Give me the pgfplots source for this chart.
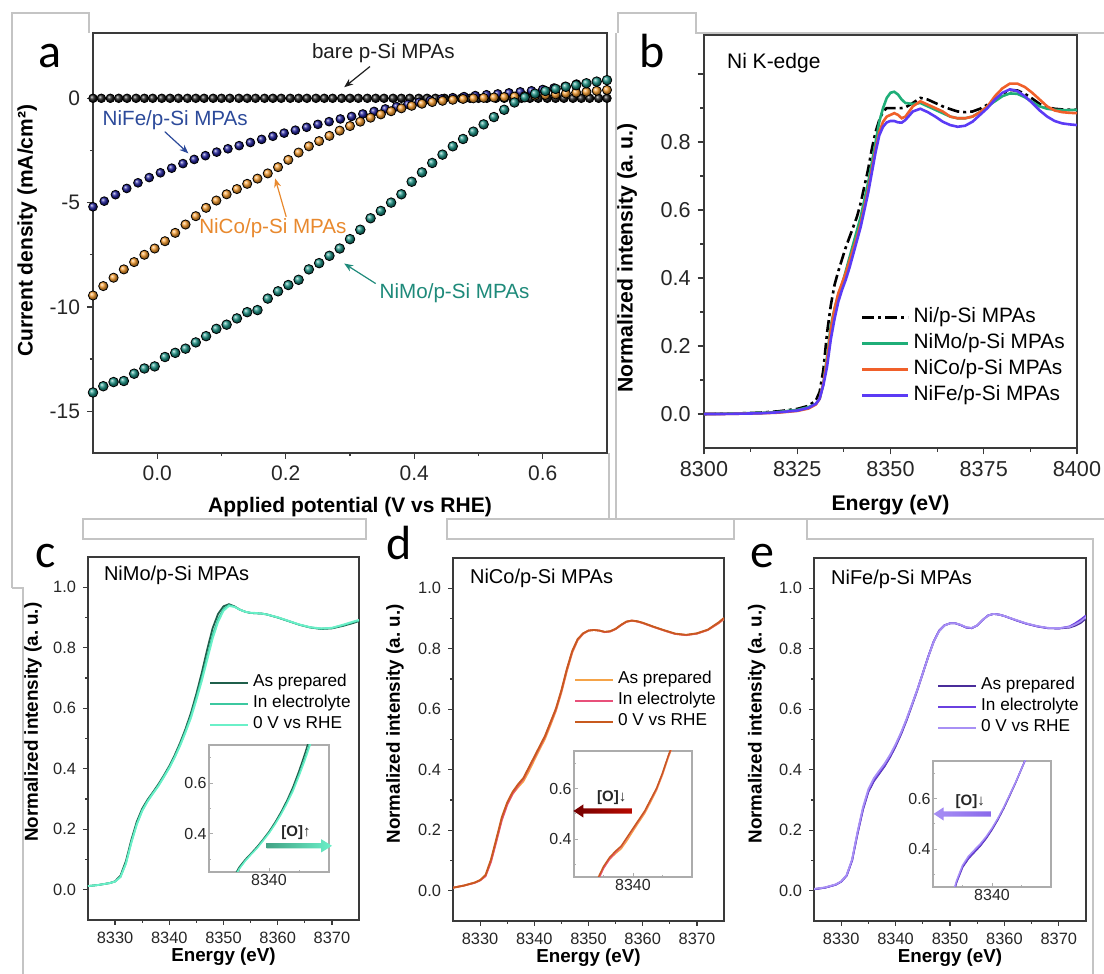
\documentclass[border=0pt]{standalone}
\usepackage{pgfplots}
\pgfplotsset{compat=1.18}
\usepackage{pgfplotstable}
\usepackage{fontspec}
\setmainfont{Liberation Sans}
\newfontfamily\carlito{Carlito}
\usetikzlibrary{arrows.meta}

\definecolor{framec}{HTML}{3A3A3A}
\definecolor{tickc}{HTML}{262626}
\definecolor{boxc}{HTML}{C4C4C4}
% panel a
\definecolor{aBlk}{HTML}{1E1E1E}
\definecolor{aBlu}{HTML}{1F1F9A}
\definecolor{aOra}{HTML}{F39A2E}
\definecolor{aTea}{HTML}{1A9082}
\definecolor{annBlu}{HTML}{2C4A9A}
\definecolor{annOra}{HTML}{E8892E}
\definecolor{annTea}{HTML}{1E8A7A}
% panel b
\definecolor{bMo}{HTML}{1FAE78}
\definecolor{bCo}{HTML}{F0602A}
\definecolor{bFe}{HTML}{5B3BF5}
% panel c
\definecolor{cAP}{HTML}{1F5F4B}
\definecolor{cEL}{HTML}{3CC8A0}
\definecolor{cZV}{HTML}{6AF0C8}
% panel d
\definecolor{dAP}{HTML}{F5A347}
\definecolor{dEL}{HTML}{E8507A}
\definecolor{dZV}{HTML}{C85A1E}
% panel e
\definecolor{eAP}{HTML}{4A2D9A}
\definecolor{eEL}{HTML}{6A40E0}
\definecolor{eZV}{HTML}{A890F5}

\pgfplotsset{
  every axis/.append style={
    scale only axis,
    /pgf/number format/assume math mode=true,
    /pgf/number format/1000 sep={},
    scaled ticks=false,
    tick align=outside,
    tick pos=left,
    axis line style={draw=framec, line width=0.8pt},
    tick style={draw=framec, line width=0.6pt},
    tick label style={text=tickc},
  },
  xas/.style={
    xmin=8325, xmax=8375, ymin=-0.1, ymax=1.1,
    xtick={8330,8340,8350,8360,8370},
    ytick={0,0.2,0.4,0.6,0.8,1.0},
    minor x tick num=1, minor y tick num=1,
    major tick length=2.5pt, minor tick length=1.4pt,
    yticklabel style={/pgf/number format/fixed, /pgf/number format/fixed zerofill, /pgf/number format/precision=1},
    tick label style={font=\fontsize{8.2}{9.5}\selectfont},
    xlabel={Energy (eV)}, ylabel={Normalized intensity (a.\ u.)},
    label style={font=\bfseries\fontsize{9.4}{11}\selectfont},
    xlabel style={at={(axis description cs:0.5,-0.102)}, anchor=center},
    legend cell align=left,
    legend image code/.code={\draw[##1] (0pt,0pt) -- (19pt,0pt);},
  },
  inset/.style={
    xmin=8330, xmax=8350, ymin=0.25, ymax=0.75,
    xtick={8340}, ytick={0.4,0.6},
    minor xtick={8335,8345}, minor ytick={0.3,0.5,0.7},
    tick align=inside,
    axis line style={draw=gray!65, line width=0.6pt},
    tick style={draw=gray!65, line width=0.5pt},
    major tick length=2pt, minor tick length=1.2pt,
    tick label style={font=\fontsize{8}{9}\selectfont, inner sep=1pt},
    yticklabel style={/pgf/number format/fixed, /pgf/number format/fixed zerofill, /pgf/number format/precision=1},
    axis background/.style={fill=white},
    clip mode=individual,
  },
}

\pgfplotstableread{
E ni mo co fe
8300 0.000 0.000 0.000 0.000
8305 0.001 0.001 0.000 0.000
8310 0.002 0.002 0.001 0.001
8315 0.004 0.003 0.002 0.002
8320 0.008 0.006 0.004 0.005
8325 0.015 0.012 0.009 0.010
8328 0.024 0.020 0.016 0.018
8330 0.040 0.030 0.028 0.030
8331 0.065 0.045 0.045 0.045
8332 0.130 0.090 0.090 0.085
8333 0.240 0.170 0.160 0.140
8334 0.320 0.260 0.250 0.220
8335 0.380 0.310 0.310 0.280
8336 0.420 0.350 0.355 0.330
8337 0.455 0.380 0.385 0.365
8338 0.490 0.420 0.415 0.395
8339 0.520 0.460 0.450 0.430
8340 0.550 0.500 0.485 0.470
8341 0.580 0.540 0.520 0.510
8342 0.620 0.580 0.560 0.550
8343 0.670 0.630 0.610 0.600
8344 0.720 0.680 0.660 0.650
8345 0.780 0.740 0.720 0.710
8346 0.830 0.800 0.780 0.770
8347 0.865 0.860 0.830 0.820
8348 0.890 0.900 0.860 0.845
8349 0.900 0.930 0.875 0.858
8350 0.900 0.945 0.880 0.862
8351 0.900 0.948 0.885 0.862
8352 0.900 0.940 0.880 0.858
8353 0.900 0.925 0.870 0.857
8354 0.902 0.915 0.875 0.865
8356 0.915 0.912 0.905 0.890
8358 0.930 0.915 0.920 0.898
8360 0.925 0.905 0.910 0.888
8362 0.915 0.895 0.900 0.875
8364 0.905 0.885 0.890 0.860
8366 0.897 0.875 0.875 0.850
8368 0.890 0.870 0.870 0.845
8370 0.888 0.870 0.870 0.848
8372 0.890 0.875 0.875 0.860
8374 0.898 0.888 0.888 0.880
8376 0.910 0.905 0.905 0.900
8378 0.925 0.920 0.935 0.925
8380 0.942 0.935 0.958 0.945
8382 0.953 0.943 0.972 0.955
8384 0.952 0.942 0.972 0.950
8386 0.942 0.932 0.962 0.935
8388 0.928 0.918 0.945 0.915
8390 0.912 0.905 0.925 0.893
8392 0.902 0.898 0.905 0.875
8394 0.898 0.895 0.893 0.862
8396 0.896 0.894 0.888 0.855
8398 0.895 0.894 0.886 0.852
8400 0.895 0.895 0.885 0.850
}\tabB

\pgfplotstableread{
E ap el zv
8325 0.012 0.012 0.012
8327 0.016 0.016 0.016
8329 0.022 0.022 0.022
8330 0.028 0.027 0.027
8331 0.047 0.043 0.042
8332 0.095 0.088 0.086
8333 0.165 0.158 0.155
8334 0.225 0.218 0.215
8335 0.268 0.263 0.260
8336 0.298 0.294 0.292
8337 0.323 0.320 0.318
8338 0.349 0.345 0.343
8339 0.378 0.375 0.372
8340 0.409 0.405 0.402
8341 0.445 0.440 0.437
8342 0.486 0.480 0.476
8343 0.532 0.525 0.520
8344 0.585 0.575 0.568
8345 0.648 0.635 0.627
8346 0.718 0.700 0.690
8347 0.795 0.772 0.760
8348 0.865 0.842 0.830
8349 0.912 0.895 0.885
8350 0.937 0.928 0.922
8351 0.944 0.941 0.938
8352 0.937 0.936 0.935
8353 0.926 0.926 0.926
8354 0.919 0.919 0.919
8355 0.915 0.915 0.916
8356 0.914 0.914 0.915
8357 0.913 0.913 0.913
8358 0.910 0.910 0.910
8360 0.900 0.900 0.901
8362 0.888 0.888 0.889
8364 0.876 0.876 0.877
8366 0.867 0.867 0.868
8368 0.862 0.863 0.864
8370 0.864 0.865 0.866
8372 0.872 0.874 0.876
8374 0.882 0.885 0.887
8375 0.888 0.890 0.892
}\tabC

\pgfplotstableread{
E ap el zv
8325 0.010 0.010 0.010
8327 0.017 0.017 0.017
8329 0.027 0.026 0.027
8330 0.035 0.034 0.035
8331 0.050 0.048 0.052
8332 0.098 0.095 0.103
8333 0.166 0.163 0.172
8334 0.236 0.233 0.243
8335 0.286 0.284 0.292
8336 0.320 0.320 0.327
8337 0.342 0.347 0.352
8338 0.362 0.370 0.373
8339 0.395 0.405 0.408
8340 0.432 0.440 0.443
8341 0.468 0.475 0.478
8342 0.503 0.510 0.513
8343 0.548 0.555 0.558
8344 0.595 0.600 0.603
8345 0.655 0.660 0.663
8346 0.725 0.730 0.733
8347 0.787 0.790 0.793
8348 0.828 0.830 0.832
8349 0.849 0.850 0.851
8350 0.860 0.860 0.860
8351 0.862 0.862 0.862
8352 0.860 0.860 0.860
8353 0.855 0.855 0.856
8354 0.857 0.857 0.858
8355 0.865 0.865 0.866
8356 0.878 0.878 0.879
8357 0.889 0.889 0.890
8358 0.893 0.893 0.893
8359 0.890 0.890 0.891
8360 0.885 0.885 0.886
8362 0.872 0.872 0.873
8364 0.860 0.860 0.861
8366 0.849 0.849 0.850
8368 0.845 0.845 0.846
8370 0.850 0.850 0.851
8372 0.862 0.862 0.863
8374 0.884 0.885 0.887
8375 0.898 0.900 0.902
}\tabD

\pgfplotstableread{
E ap el zv
8325 0.005 0.005 0.006
8327 0.010 0.010 0.011
8329 0.020 0.020 0.021
8330 0.030 0.030 0.031
8331 0.050 0.050 0.052
8332 0.100 0.100 0.104
8333 0.188 0.190 0.195
8334 0.268 0.270 0.276
8335 0.327 0.330 0.336
8336 0.362 0.365 0.372
8337 0.387 0.390 0.397
8338 0.412 0.415 0.421
8339 0.442 0.445 0.450
8340 0.477 0.480 0.484
8341 0.517 0.520 0.523
8342 0.562 0.565 0.567
8343 0.612 0.615 0.616
8344 0.663 0.665 0.665
8345 0.718 0.720 0.719
8346 0.773 0.775 0.773
8347 0.823 0.825 0.823
8348 0.859 0.860 0.858
8349 0.877 0.878 0.877
8350 0.884 0.884 0.884
8351 0.884 0.884 0.884
8352 0.878 0.878 0.879
8353 0.870 0.870 0.871
8354 0.868 0.868 0.869
8355 0.877 0.877 0.877
8356 0.895 0.895 0.895
8357 0.910 0.910 0.910
8358 0.915 0.915 0.915
8359 0.913 0.913 0.913
8360 0.908 0.908 0.908
8362 0.895 0.895 0.896
8364 0.883 0.883 0.884
8366 0.874 0.874 0.875
8368 0.868 0.868 0.869
8370 0.867 0.867 0.868
8372 0.870 0.874 0.872
8373 0.876 0.884 0.880
8374 0.885 0.896 0.890
8375 0.900 0.910 0.905
}\tabE

\begin{document}
\begin{tikzpicture}
\useasboundingbox (0pt,0pt) rectangle (552pt,487pt);

% light grey layout boxes
\begin{scope}[draw=boxc, line width=0.6pt]
\draw (6pt,193pt) -- (6pt,480.5pt) -- (44.5pt,480.5pt) -- (44.5pt,470.5pt);
\draw (6pt,193pt) -- (11.5pt,193pt) -- (11.5pt,0pt);
\draw (304.5pt,260.5pt) -- (304.5pt,227.5pt);
\draw (308pt,227.5pt) -- (308pt,470.5pt);
\draw (309pt,470.5pt) -- (309pt,480.5pt) -- (348pt,480.5pt) -- (348pt,470.5pt) -- (552pt,470.5pt);
\draw (308pt,227.5pt) -- (552pt,227.5pt);
\draw (41.5pt,227.5pt) rectangle (183pt,217.5pt);
\draw (223.5pt,227.5pt) rectangle (367pt,217.5pt);
\draw (403.5pt,227.5pt) -- (403.5pt,217.5pt) -- (546.5pt,217.5pt) -- (546.5pt,0pt);
\end{scope}

% ---------------- panel a ----------------
\begin{axis}[
  at={(46.5pt,260.5pt)}, anchor=south west, width=257pt, height=210pt,
  xmin=-0.1, xmax=0.7, ymin=-17, ymax=3.13,
  xtick={0,0.2,0.4,0.6}, ytick={-15,-10,-5,0},
  minor x tick num=1, minor y tick num=1,
  major tick length=3pt, minor tick length=1.6pt,
  xticklabel style={/pgf/number format/fixed, /pgf/number format/fixed zerofill, /pgf/number format/precision=1},
  tick label style={font=\fontsize{10.5}{12}\selectfont},
  xlabel={Applied potential (V vs RHE)},
  ylabel={Current density (mA/cm²)},
  label style={font=\bfseries\fontsize{10.5}{12}\selectfont},
  xlabel style={at={(axis description cs:0.5,-0.129)}, anchor=center},
  ylabel style={at={(axis description cs:-0.128,0.529)}, anchor=center},
]
\addplot[only marks, mark=ball, mark size=2.15pt, ball color=aBlk] coordinates {
(-0.100,0)(-0.087,0)(-0.073,0)(-0.060,0)(-0.047,0)(-0.033,0)(-0.020,0)(-0.007,0)
(0.007,0)(0.020,0)(0.033,0)(0.047,0)(0.060,0)(0.073,0)(0.087,0)(0.100,0)
(0.113,0)(0.127,0)(0.140,0)(0.153,0)(0.167,0)(0.180,0)(0.193,0)(0.207,0)
(0.220,0)(0.233,0)(0.247,0)(0.260,0)(0.273,0)(0.287,0)(0.300,0)(0.313,0)
(0.327,0)(0.340,0)(0.353,0)(0.367,0)(0.380,0)(0.393,0)(0.407,0)(0.420,0)
(0.433,0)(0.447,0)(0.460,0)(0.473,0)(0.487,0)(0.500,0)(0.513,0)(0.527,0)
(0.540,0)(0.553,0)(0.567,0)(0.580,0)(0.593,0)(0.607,0)(0.620,0)(0.633,0)
(0.647,0)(0.660,0)(0.673,0)(0.687,0)(0.700,0)};
\addplot[only marks, mark=ball, mark size=2.2pt, ball color=aBlu] coordinates {
(-0.1,-5.2)(-0.0825,-4.93)(-0.065,-4.62)(-0.0475,-4.32)(-0.03,-4.05)(-0.0125,-3.80)
(0.005,-3.57)(0.0225,-3.35)(0.04,-3.13)(0.0575,-2.93)(0.075,-2.75)(0.0925,-2.58)
(0.11,-2.42)(0.1275,-2.27)(0.145,-2.12)(0.1625,-1.97)(0.18,-1.82)(0.1975,-1.67)
(0.215,-1.53)(0.2325,-1.39)(0.25,-1.25)(0.2675,-1.12)(0.285,-0.99)(0.3025,-0.87)
(0.32,-0.75)(0.3375,-0.63)(0.355,-0.51)(0.3725,-0.40)(0.39,-0.29)(0.4075,-0.19)
(0.425,-0.10)(0.4425,-0.03)(0.46,0.03)(0.4775,0.08)(0.495,0.13)(0.5125,0.17)
(0.53,0.21)(0.5475,0.26)(0.565,0.31)(0.5825,0.36)(0.60,0.42)(0.6175,0.49)
(0.635,0.57)(0.6525,0.68)};
\addplot[only marks, mark=ball, mark size=2.3pt, ball color=aOra] coordinates {
(-0.100,-9.45)(-0.084,-9.0)(-0.068,-8.6)(-0.052,-8.2)(-0.036,-7.85)(-0.020,-7.5)
(-0.004,-7.2)(0.012,-6.85)(0.028,-6.45)(0.044,-6.05)(0.060,-5.65)(0.076,-5.25)
(0.092,-4.9)(0.108,-4.6)(0.124,-4.35)(0.140,-4.1)(0.156,-3.85)(0.172,-3.6)
(0.188,-3.3)(0.204,-2.95)(0.220,-2.6)(0.236,-2.3)(0.252,-2.05)(0.268,-1.8)
(0.284,-1.55)(0.300,-1.33)(0.316,-1.12)(0.332,-0.93)(0.348,-0.77)(0.364,-0.62)
(0.380,-0.48)(0.396,-0.36)(0.412,-0.26)(0.428,-0.18)(0.444,-0.12)(0.460,-0.07)
(0.476,-0.03)(0.492,0.0)(0.508,0.02)(0.524,0.04)(0.540,0.06)(0.556,0.08)
(0.572,0.10)(0.588,0.13)(0.604,0.16)(0.620,0.19)(0.636,0.23)(0.652,0.27)
(0.668,0.31)(0.684,0.36)(0.700,0.40)};
\addplot[only marks, mark=ball, mark size=2.4pt, ball color=aTea] coordinates {
(-0.100,-14.1)(-0.084,-13.8)(-0.068,-13.6)(-0.052,-13.55)(-0.036,-13.2)(-0.020,-12.95)
(-0.004,-12.85)(0.012,-12.4)(0.028,-12.2)(0.044,-12.0)(0.060,-11.7)(0.076,-11.4)
(0.092,-11.05)(0.108,-10.85)(0.124,-10.55)(0.140,-10.25)(0.156,-10.15)(0.172,-9.6)
(0.188,-9.25)(0.204,-8.95)(0.220,-8.7)(0.236,-8.2)(0.252,-7.9)(0.268,-7.55)
(0.284,-7.2)(0.300,-6.75)(0.316,-6.3)(0.332,-5.75)(0.348,-5.4)(0.364,-5.0)
(0.380,-4.6)(0.396,-4.0)(0.412,-3.55)(0.428,-3.1)(0.444,-2.7)(0.460,-2.3)
(0.476,-1.95)(0.492,-1.6)(0.508,-1.25)(0.524,-0.9)(0.540,-0.55)(0.556,-0.2)
(0.572,0.05)(0.588,0.22)(0.604,0.35)(0.620,0.45)(0.636,0.55)(0.652,0.63)
(0.668,0.72)(0.684,0.80)(0.700,0.87)};
\node[font=\fontsize{10.3}{12}\selectfont, text=aBlk] at (axis cs:0.352,2.16) {bare p-Si MPAs};
\draw[-{Stealth[length=4.5pt,width=3.5pt]}, aBlk, line width=0.6pt] (axis cs:0.331,1.52) -- (axis cs:0.291,0.53);
\node[font=\fontsize{10.3}{12}\selectfont, text=annBlu] at (axis cs:0.028,-1.04) {NiFe/p-Si MPAs};
\draw[-{Stealth[length=4.5pt,width=3.5pt]}, annBlu, line width=0.6pt] (axis cs:0.0117,-1.60) -- (axis cs:0.0485,-2.64);
\node[font=\fontsize{10.3}{12}\selectfont, text=annOra] at (axis cs:0.180,-6.24) {NiCo/p-Si MPAs};
\draw[-{Stealth[length=4.5pt,width=3.5pt]}, annOra, line width=0.6pt] (axis cs:0.2007,-5.68) -- (axis cs:0.1835,-3.84);
\node[font=\fontsize{10.3}{12}\selectfont, text=annTea] at (axis cs:0.4627,-9.36) {NiMo/p-Si MPAs};
\draw[-{Stealth[length=4.5pt,width=3.5pt]}, annTea, line width=0.6pt] (axis cs:0.340,-8.88) -- (axis cs:0.291,-7.92);
\end{axis}

% ---------------- panel b ----------------
\begin{axis}[
  at={(352pt,263pt)}, anchor=south west, width=186.5pt, height=206.5pt,
  xmin=8300, xmax=8400, ymin=-0.1, ymax=1.115,
  xtick={8300,8325,8350,8375,8400}, ytick={0,0.2,0.4,0.6,0.8,1.0},
  yticklabels={0.0,0.2,0.4,0.6,0.8,{}},
  minor x tick num=1, minor y tick num=1,
  major tick length=3.2pt, minor tick length=1.8pt,
  tick label style={font=\fontsize{10.8}{12}\selectfont},
  xlabel={Energy (eV)}, ylabel={Normalized intensity (a.\ u.)},
  label style={font=\bfseries\fontsize{10.6}{12}\selectfont},
  xlabel style={at={(axis description cs:0.5,-0.138)}, anchor=center},
  ylabel style={at={(axis description cs:-0.206,0.46)}, anchor=center},
  legend style={draw=none, fill=none, at={(0.404,0.358)}, anchor=north west,
    font=\fontsize{10.4}{12}\selectfont, nodes={inner sep=0pt, text height=9pt, text depth=4pt}, column sep=2pt},
  legend cell align=left,
  legend image code/.code={\draw[#1] (0pt,0pt) -- (23pt,0pt);},
]
\addplot[black, line width=1.3pt, dash pattern=on 6pt off 2pt on 1.5pt off 2pt] table[x=E,y=ni] {\tabB};
\addlegendentry{Ni/p-Si MPAs}
\addplot[bMo, line width=1.3pt] table[x=E,y=mo] {\tabB};
\addlegendentry{NiMo/p-Si MPAs}
\addplot[bCo, line width=1.3pt] table[x=E,y=co] {\tabB};
\addlegendentry{NiCo/p-Si MPAs}
\addplot[bFe, line width=1.3pt] table[x=E,y=fe] {\tabB};
\addlegendentry{NiFe/p-Si MPAs}
\node[anchor=west, font=\fontsize{10.5}{12}\selectfont] at (axis description cs:0.043,0.932) {Ni K-edge};
\end{axis}

% ---------------- panel c ----------------
\begin{axis}[xas,
  at={(44pt,27pt)}, anchor=south west, width=135.5pt, height=181.5pt,
  ylabel style={at={(axis description cs:-0.203,0.545)}, anchor=center},
  legend style={draw=none, fill=none, at={(0.424,0.694)}, anchor=north west,
    font=\fontsize{8.6}{10}\selectfont, nodes={inner sep=0pt, text height=7pt, text depth=3.5pt}, column sep=2pt},
]
\addplot[cAP, line width=0.9pt] table[x=E,y=ap] {\tabC};
\addlegendentry{As prepared}
\addplot[cEL, line width=0.9pt] table[x=E,y=el] {\tabC};
\addlegendentry{In electrolyte}
\addplot[cZV, line width=0.9pt] table[x=E,y=zv] {\tabC};
\addlegendentry{0 V vs RHE}
\node[anchor=west, font=\fontsize{10}{12}\selectfont] at (axis description cs:0.033,0.95) {NiMo/p-Si MPAs};
\end{axis}
\begin{axis}[inset, at={(104.5pt,51pt)}, anchor=south west, width=60pt, height=63.5pt]
\addplot[cAP, line width=0.7pt] table[x=E,y=ap] {\tabC};
\addplot[cEL, line width=0.7pt] table[x=E,y=el] {\tabC};
\addplot[cZV, line width=0.7pt] table[x=E,y=zv] {\tabC};
\shade[left color=cAP, right color=cZV]
 ([yshift=1.3pt]axis cs:8339.6,0.353) -- ([yshift=1.3pt]axis cs:8348.7,0.353) -- ([yshift=3.3pt]axis cs:8348.7,0.353)
 -- (axis cs:8350.5,0.353) -- ([yshift=-3.3pt]axis cs:8348.7,0.353) -- ([yshift=-1.3pt]axis cs:8348.7,0.353)
 -- ([yshift=-1.3pt]axis cs:8339.6,0.353) -- cycle;
\node[font=\bfseries\fontsize{7.5}{9}\selectfont, text=tickc] at (axis cs:8344.5,0.405) {[O]↑};
\end{axis}

% ---------------- panel d ----------------
\begin{axis}[xas,
  at={(226.5pt,26.5pt)}, anchor=south west, width=135.5pt, height=181.5pt,
  ylabel style={at={(axis description cs:-0.214,0.543)}, anchor=center},
  legend style={draw=none, fill=none, at={(0.424,0.706)}, anchor=north west,
    font=\fontsize{8.6}{10}\selectfont, nodes={inner sep=0pt, text height=7pt, text depth=3.5pt}, column sep=2pt},
]
\addplot[dAP, line width=0.9pt] table[x=E,y=ap] {\tabD};
\addlegendentry{As prepared}
\addplot[dEL, line width=0.9pt] table[x=E,y=el] {\tabD};
\addlegendentry{In electrolyte}
\addplot[dZV, line width=0.9pt] table[x=E,y=zv] {\tabD};
\addlegendentry{0 V vs RHE}
\node[anchor=west, font=\fontsize{10}{12}\selectfont] at (axis description cs:0.037,0.945) {NiCo/p-Si MPAs};
\end{axis}
\begin{axis}[inset, at={(287pt,48.5pt)}, anchor=south west, width=59pt, height=63pt]
\addplot[dAP, line width=0.7pt] table[x=E,y=ap] {\tabD};
\addplot[dEL, line width=0.7pt] table[x=E,y=el] {\tabD};
\addplot[dZV, line width=0.7pt] table[x=E,y=zv] {\tabD};
\shade[left color=red!45!black, right color=red!85!orange]
 ([yshift=1.3pt]axis cs:8339.8,0.512) -- ([yshift=1.3pt]axis cs:8331.6,0.512) -- ([yshift=3.3pt]axis cs:8331.6,0.512)
 -- (axis cs:8329.9,0.512) -- ([yshift=-3.3pt]axis cs:8331.6,0.512) -- ([yshift=-1.3pt]axis cs:8331.6,0.512)
 -- ([yshift=-1.3pt]axis cs:8339.8,0.512) -- cycle;
\node[font=\bfseries\fontsize{7.5}{9}\selectfont, text=tickc] at (axis cs:8336.4,0.565) {[O]↓};
\end{axis}

% ---------------- panel e ----------------
\begin{axis}[xas,
  at={(407pt,26.5pt)}, anchor=south west, width=136pt, height=181.5pt,
  ylabel style={at={(axis description cs:-0.21,0.543)}, anchor=center},
  legend style={draw=none, fill=none, at={(0.43,0.688)}, anchor=north west,
    font=\fontsize{8.6}{10}\selectfont, nodes={inner sep=0pt, text height=7pt, text depth=3.5pt}, column sep=2pt},
]
\addplot[eAP, line width=0.9pt] table[x=E,y=ap] {\tabE};
\addlegendentry{As prepared}
\addplot[eEL, line width=0.9pt] table[x=E,y=el] {\tabE};
\addlegendentry{In electrolyte}
\addplot[eZV, line width=0.9pt] table[x=E,y=zv] {\tabE};
\addlegendentry{0 V vs RHE}
\node[anchor=west, font=\fontsize{10}{12}\selectfont] at (axis description cs:0.037,0.942) {NiFe/p-Si MPAs};
\end{axis}
\begin{axis}[inset, at={(466.5pt,43.5pt)}, anchor=south west, width=59pt, height=63pt]
\addplot[eAP, line width=0.7pt] table[x=E,y=ap] {\tabE};
\addplot[eEL, line width=0.7pt] table[x=E,y=el] {\tabE};
\addplot[eZV, line width=0.7pt] table[x=E,y=zv] {\tabE};
\shade[left color=eZV, right color=eEL]
 ([yshift=1.3pt]axis cs:8339.8,0.54) -- ([yshift=1.3pt]axis cs:8331.8,0.54) -- ([yshift=3.3pt]axis cs:8331.8,0.54)
 -- (axis cs:8330.1,0.54) -- ([yshift=-3.3pt]axis cs:8331.8,0.54) -- ([yshift=-1.3pt]axis cs:8331.8,0.54)
 -- ([yshift=-1.3pt]axis cs:8339.8,0.54) -- cycle;
\node[font=\bfseries\fontsize{7.5}{9}\selectfont, text=tickc] at (axis cs:8336.3,0.59) {[O]↓};
\end{axis}

% panel letters
\node[anchor=base, font=\carlito\fontsize{24}{26}\selectfont] at (25pt,453pt) {a};
\node[anchor=base, font=\carlito\fontsize{24}{26}\selectfont] at (326pt,453pt) {b};
\node[anchor=base, font=\carlito\fontsize{24}{26}\selectfont] at (23pt,203pt) {c};
\node[anchor=base, font=\carlito\fontsize{24}{26}\selectfont] at (199.5pt,207pt) {d};
\node[anchor=base, font=\carlito\fontsize{24}{26}\selectfont] at (381pt,203pt) {e};
\end{tikzpicture}
\end{document}
